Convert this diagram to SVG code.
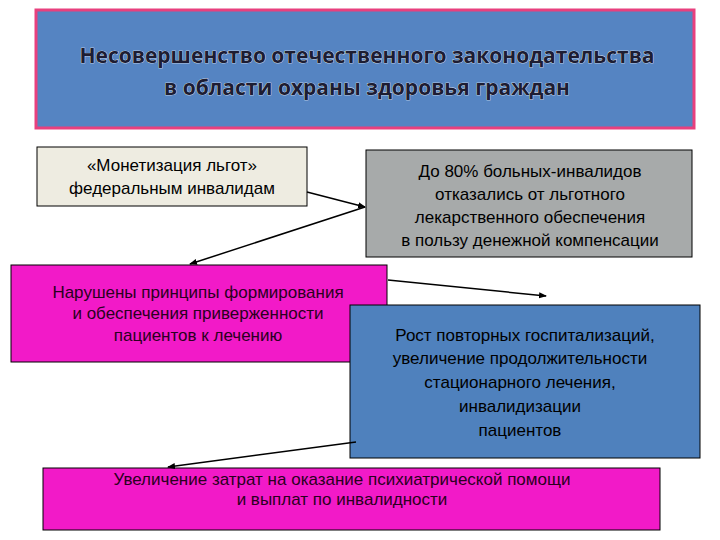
<svg xmlns="http://www.w3.org/2000/svg" width="720" height="540" viewBox="0 0 720 540">
<defs>
<marker id="ah" markerWidth="8" markerHeight="8" refX="7" refY="4" orient="auto" markerUnits="userSpaceOnUse"><path d="M0,1 L8,4 L0,7 z" fill="#000"/></marker>
</defs>
<style>
.t{font-family:"Liberation Sans",Arial,sans-serif;font-size:17px;text-anchor:middle;fill:#000}
.m{fill:#2a0020}
.h{font-family:"Open Sans","DejaVu Sans",sans-serif;font-size:21px;font-weight:bold;fill:#1d1d33;stroke:#fff;stroke-width:0.6;paint-order:stroke}
.c{stroke:#000;stroke-width:1.5;fill:none;marker-end:url(#ah)}
</style>
<rect width="720" height="540" fill="#fff"/>
<g id="header">
<rect x="36" y="10" width="658" height="118" fill="#5584c2" stroke="#e8407e" stroke-width="3"/>
<text class="h" x="367" y="63" text-anchor="middle">Несовершенство отечественного законодательства</text>
<text class="h" x="367" y="95" text-anchor="middle">в области охраны здоровья граждан</text>
</g>
<g id="n1">
<rect x="37" y="147" width="270" height="59" fill="#eeece1" stroke="#000"/>
<text class="t" x="172" y="171">«Монетизация льгот»</text>
<text class="t" x="172" y="194">федеральным инвалидам</text>
</g>
<g id="n2">
<rect x="366" y="150" width="326" height="107" fill="#a7aaaa" stroke="#000"/>
<text class="t" x="530" y="177">До 80% больных-инвалидов</text>
<text class="t" x="530" y="200">отказались от льготного</text>
<text class="t" x="530" y="223">лекарственного обеспечения</text>
<text class="t" x="530" y="246">в пользу денежной компенсации</text>
</g>
<g id="n3">
<rect x="11" y="265" width="376" height="97" fill="#f21ac8" stroke="#000"/>
<text class="t m" x="198" y="298">Нарушены принципы формирования</text>
<text class="t m" x="198" y="319">и обеспечения приверженности</text>
<text class="t m" x="198" y="341">пациентов к лечению</text>
</g>
<g id="n4">
<rect x="350" y="305" width="350" height="153" fill="#4f81bd" stroke="#000"/>
<text class="t" x="525" y="341">Рост повторных госпитализаций,</text>
<text class="t" x="520" y="364">увеличение продолжительности</text>
<text class="t" x="520" y="388">стационарного лечения,</text>
<text class="t" x="520" y="412">инвалидизации</text>
<text class="t" x="520" y="436">пациентов</text>
</g>
<g id="n5">
<rect x="43" y="468" width="617" height="62" fill="#f21ac8" stroke="#000"/>
<text class="t m" x="342" y="485">Увеличение затрат на оказание психиатрической помощи</text>
<text class="t m" x="342" y="505">и выплат по инвалидности</text>
</g>
<g id="connectors">
<line class="c" x1="307" y1="192" x2="365" y2="207"/>
<line class="c" x1="365" y1="207" x2="190" y2="264"/>
<line class="c" x1="388" y1="280" x2="546" y2="296"/>
<line class="c" x1="356" y1="442" x2="168" y2="467"/>
</g>
</svg>
